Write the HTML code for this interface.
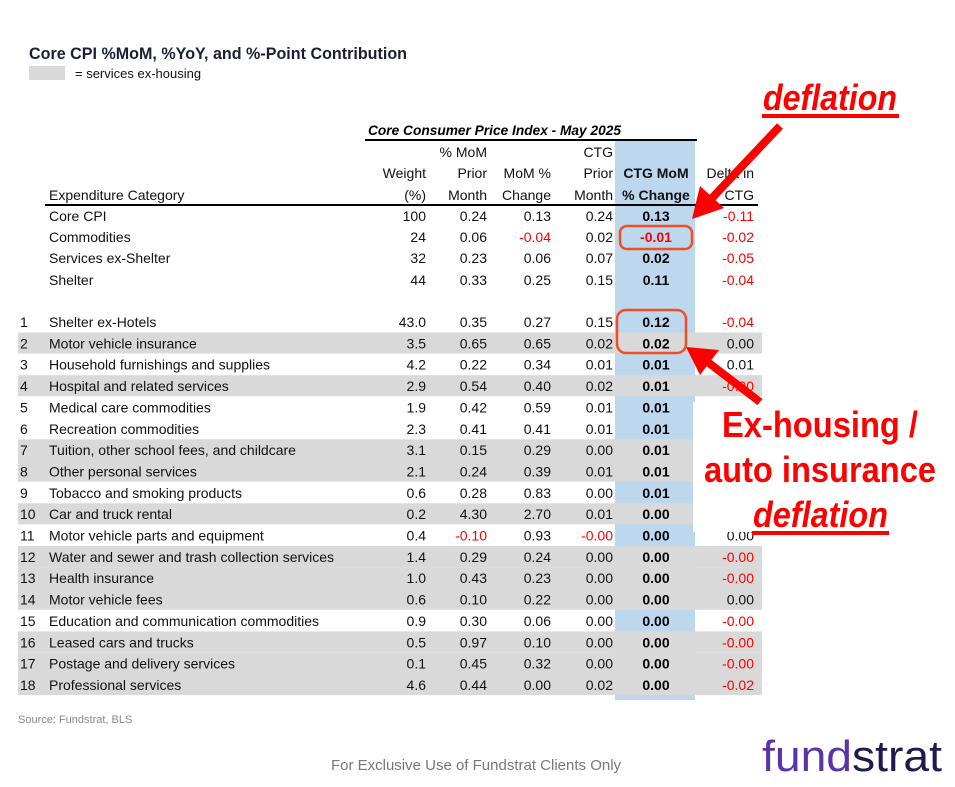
<!DOCTYPE html>
<html><head><meta charset="utf-8"><style>
html,body{margin:0;padding:0;background:#fff;}
svg{display:block;font-family:"Liberation Sans",Arial,sans-serif;}
</style></head><body>
<svg width="955" height="787" viewBox="0 0 955 787" xmlns="http://www.w3.org/2000/svg">
<rect width="955" height="787" fill="#fff"/>
<text x="29" y="59" font-size="17" font-weight="bold" fill="#1a1f36" textLength="378" lengthAdjust="spacingAndGlyphs">Core CPI %MoM, %YoY, and %-Point Contribution</text>
<rect x="29" y="66" width="36" height="14" fill="#d9d9d9"/>
<text x="75" y="78" font-size="13" fill="#111">= services ex-housing</text>

<!-- blue column -->
<rect x="615" y="140" width="80" height="560" fill="#bdd7ee"/>

<!-- gray rows -->
<g fill="#d9d9d9">
<rect x="18" y="332.5" width="744" height="21"/>
<rect x="18" y="375.2" width="744" height="21"/>
<rect x="18" y="439.3" width="744" height="21.4"/>
<rect x="18" y="460.6" width="744" height="21"/>
<rect x="18" y="503.3" width="744" height="21"/>
<rect x="18" y="546" width="744" height="21.4"/>
<rect x="18" y="567.4" width="744" height="21.4"/>
<rect x="18" y="588.7" width="744" height="21"/>
<rect x="18" y="631.4" width="744" height="21.4"/>
<rect x="18" y="652.8" width="744" height="21.4"/>
<rect x="18" y="674.1" width="744" height="21"/>
</g>

<text x="368" y="135" font-size="14" font-weight="bold" font-style="italic" fill="#000" textLength="253" lengthAdjust="spacingAndGlyphs">Core Consumer Price Index - May 2025</text>
<line x1="365" y1="140" x2="697" y2="140" stroke="#000" stroke-width="2"/>
<line x1="45" y1="205" x2="758" y2="205" stroke="#000" stroke-width="2"/>

<g font-size="14" fill="#111">
<text x="49" y="200">Expenditure Category</text>
<g text-anchor="end">
<text x="426" y="178">Weight</text><text x="426" y="200">(%)</text>
<text x="487" y="157">% MoM</text><text x="487" y="178">Prior</text><text x="487" y="200">Month</text>
<text x="551" y="178">MoM %</text><text x="551" y="200">Change</text>
<text x="613" y="157">CTG</text><text x="613" y="178">Prior</text><text x="613" y="200">Month</text>
<text x="754" y="178">Delta in</text><text x="754" y="200">CTG</text>
</g>
<g text-anchor="middle" font-weight="bold"><text x="656" y="178">CTG MoM</text><text x="656" y="200">% Change</text></g>
</g>

<g font-size="14" fill="#111" id="rows"></g>

<!-- white box over annotation -->
<rect x="693" y="402" width="262" height="130" fill="#fff"/>

<!-- annotations -->
<g fill="#ff0000" stroke="none">
<text x="763" y="110" font-size="36" font-weight="bold" font-style="italic" textLength="134" lengthAdjust="spacingAndGlyphs">deflation</text>
<rect x="762" y="114" width="137" height="4"/>
<text x="820" y="437" text-anchor="middle" font-size="36" font-weight="bold" textLength="196" lengthAdjust="spacingAndGlyphs">Ex-housing /</text>
<text x="820" y="482" text-anchor="middle" font-size="36" font-weight="bold" textLength="232" lengthAdjust="spacingAndGlyphs">auto insurance</text>
<text x="753" y="527" font-size="36" font-weight="bold" font-style="italic" textLength="135" lengthAdjust="spacingAndGlyphs">deflation</text>
<rect x="752" y="531" width="137" height="4"/>
</g>
<!-- arrow 1 -->
<line x1="780" y1="126" x2="712" y2="198" stroke="#ff0000" stroke-width="8"/>
<polygon points="692,219 700,186 724,208" fill="#ff0000"/>
<!-- arrow 2 -->
<line x1="760" y1="402" x2="705" y2="360" stroke="#ff0000" stroke-width="8"/>
<polygon points="686,347 719,350 700,375" fill="#ff0000"/>
<!-- boxes -->
<rect x="620" y="226" width="72" height="23" rx="7" fill="none" stroke="#f04e23" stroke-width="2.5"/>
<rect x="617" y="310" width="69" height="43" rx="9" fill="none" stroke="#f04e23" stroke-width="2.5"/>

<text x="18" y="723" font-size="11" fill="#888">Source: Fundstrat, BLS</text>
<text x="476" y="770" text-anchor="middle" font-size="15" fill="#777">For Exclusive Use of Fundstrat Clients Only</text>
<text x="762" y="771" font-size="44" textLength="180" lengthAdjust="spacingAndGlyphs"><tspan fill="#5a34a6">fund</tspan><tspan fill="#1f1b4d">strat</tspan></text>
</svg>
<script>
var R=[
["","Core CPI","100","0.24","0.13","0.24","0.13","-0.11",216],
["","Commodities","24","0.06","-0.04","0.02","-0.01","-0.02",237],
["","Services ex-Shelter","32","0.23","0.06","0.07","0.02","-0.05",258],
["","Shelter","44","0.33","0.25","0.15","0.11","-0.04",280],
["1","Shelter ex-Hotels","43.0","0.35","0.27","0.15","0.12","-0.04"],
["2","Motor vehicle insurance","3.5","0.65","0.65","0.02","0.02","0.00"],
["3","Household furnishings and supplies","4.2","0.22","0.34","0.01","0.01","0.01"],
["4","Hospital and related services","2.9","0.54","0.40","0.02","0.01","-0.00"],
["5","Medical care commodities","1.9","0.42","0.59","0.01","0.01","0.00"],
["6","Recreation commodities","2.3","0.41","0.41","0.01","0.01","0.00"],
["7","Tuition, other school fees, and childcare","3.1","0.15","0.29","0.00","0.01","0.00"],
["8","Other personal services","2.1","0.24","0.39","0.01","0.01","0.00"],
["9","Tobacco and smoking products","0.6","0.28","0.83","0.00","0.01","0.00"],
["10","Car and truck rental","0.2","4.30","2.70","0.01","0.00","0.00"],
["11","Motor vehicle parts and equipment","0.4","-0.10","0.93","-0.00","0.00","0.00"],
["12","Water and sewer and trash collection services","1.4","0.29","0.24","0.00","0.00","-0.00"],
["13","Health insurance","1.0","0.43","0.23","0.00","0.00","-0.00"],
["14","Motor vehicle fees","0.6","0.10","0.22","0.00","0.00","0.00"],
["15","Education and communication commodities","0.9","0.30","0.06","0.00","0.00","-0.00"],
["16","Leased cars and trucks","0.5","0.97","0.10","0.00","0.00","-0.00"],
["17","Postage and delivery services","0.1","0.45","0.32","0.00","0.00","-0.00"],
["18","Professional services","4.6","0.44","0.00","0.02","0.00","-0.02"]];
var g=document.getElementById('rows'),s='';
var xs=[426,487,551,613];
R.forEach(function(r,i){
 var y=(r[8]!==undefined?r[8]:322+(i-4)*21.35)+5;
 if(r[0])s+='<text x="20" y="'+y+'">'+r[0]+'</text>';
 s+='<text x="49" y="'+y+'">'+r[1]+'</text>';
 for(var k=0;k<4;k++){var v=r[2+k];s+='<text text-anchor="end" x="'+xs[k]+'" y="'+y+'" fill="'+(v.charAt(0)=='-'?'#ff0000':'#111')+'">'+v+'</text>';}
 var c=r[6];s+='<text text-anchor="middle" font-weight="bold" x="656" y="'+y+'" fill="'+(c.charAt(0)=='-'?'#ff0000':'#000')+'">'+c+'</text>';
 var d=r[7];s+='<text text-anchor="end" x="754" y="'+y+'" fill="'+(d.charAt(0)=='-'?'#ff0000':'#111')+'">'+d+'</text>';
});
g.innerHTML=s;
</script>
</body></html>
